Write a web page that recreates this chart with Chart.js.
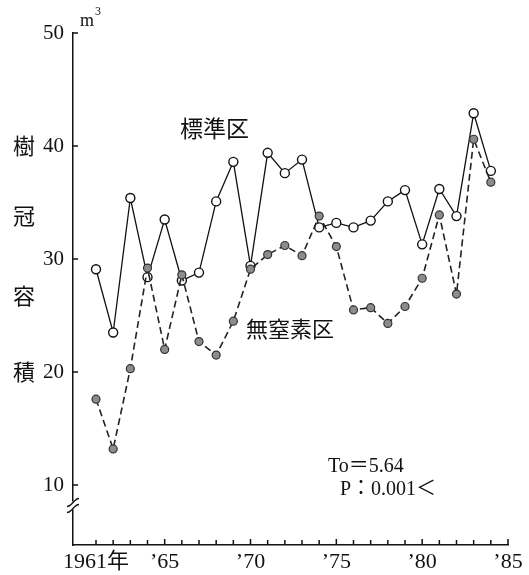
<!DOCTYPE html>
<html lang="ja">
<head>
<meta charset="utf-8">
<title>樹冠容積</title>
<script src="https://cdn.jsdelivr.net/npm/chart.js@4.4.1/dist/chart.umd.min.js"></script>
<style>
  html, body { margin: 0; padding: 0; background: #fff; }
  canvas { display: block; }
</style>
</head>
<body>
<canvas id="crown" width="529" height="575"></canvas>
<script>
// crown volume per year, m3
const years = [1961, 1962, 1963, 1964, 1965, 1966, 1967, 1968, 1969, 1970, 1971, 1972,
               1973, 1974, 1975, 1976, 1977, 1978, 1979, 1980, 1981, 1982, 1983, 1984];
const standardPlot = [29.1, 23.5, 35.4, 28.4, 33.5, 28.1, 28.8, 35.1, 38.6, 29.4, 39.4, 37.6,
                      38.8, 32.8, 33.2, 32.8, 33.4, 35.1, 36.1, 31.3, 36.2, 33.8, 42.9, 37.8];
const noNitrogenPlot = [17.6, 13.2, 20.3, 29.2, 22.0, 28.6, 22.7, 21.5, 24.5, 29.1, 30.4, 31.2,
                        30.3, 33.8, 31.1, 25.5, 25.7, 24.3, 25.8, 28.3, 33.9, 26.9, 40.6, 36.8];

const yearTicks = [1961, 1962, 1963, 1964, 1965, 1966, 1967, 1968, 1969, 1970, 1971, 1972, 1973,
                   1974, 1975, 1976, 1977, 1978, 1979, 1980, 1981, 1982, 1983, 1984, 1985];
const yearLabels = { 1961: '1961年', 1965: '’65', 1970: '’70', 1975: '’75', 1980: '’80', 1985: '’85' };
const volumeTicks = [10, 20, 30, 40, 50];

const SERIF = "'Liberation Serif', 'DejaVu Serif', 'Noto Sans CJK JP', serif";
const JP = "'Noto Sans CJK JP', sans-serif";

const toPoints = vals => years.map((yr, i) => ({ x: yr, y: vals[i] }));

// inward ticks, axis break, titles and notes
const decorations = {
  id: 'decorations',
  afterDraw(chart) {
    const { ctx, chartArea, scales: { x, y } } = chart;
    const left = chartArea.left, bottom = chartArea.bottom;
    ctx.save();
    ctx.strokeStyle = '#111';
    ctx.lineWidth = 1.5;

    ctx.beginPath();
    yearTicks.forEach(v => {
      const px = x.getPixelForValue(v);
      ctx.moveTo(px, bottom);
      ctx.lineTo(px, bottom - (v % 5 === 0 ? 6 : 5));
    });
    volumeTicks.forEach(v => {
      const py = y.getPixelForValue(v);
      ctx.moveTo(left, py);
      ctx.lineTo(left + 5, py);
    });
    ctx.stroke();

    // break mark on the value axis
    const yb = y.getPixelForValue(8.2);
    ctx.fillStyle = '#fff';
    ctx.fillRect(left - 2, yb - 4, 4, 8);
    ctx.lineWidth = 1.4;
    [-3, 3].forEach(off => {
      ctx.beginPath();
      ctx.moveTo(left - 6, yb + off + 4);
      ctx.bezierCurveTo(left - 1, yb + off + 4, left + 1, yb + off - 4, left + 6, yb + off - 4);
      ctx.stroke();
    });

    ctx.fillStyle = '#111';
    ctx.textBaseline = 'middle';

    ctx.font = '18px ' + SERIF;
    ctx.textAlign = 'left';
    ctx.fillText('m', left + 7, 21);
    ctx.font = '12px ' + SERIF;
    ctx.fillText('3', left + 22, 12);

    ctx.font = '22px ' + JP;
    ctx.textAlign = 'center';
    [['樹', 40], ['冠', 33.8], ['容', 26.8], ['積', 20]].forEach(([ch, v]) => {
      ctx.fillText(ch, 24, y.getPixelForValue(v));
    });

    ctx.textAlign = 'left';
    ctx.font = '23px ' + JP;
    ctx.fillText('標準区', 180, 128);
    ctx.font = '22px ' + JP;
    ctx.fillText('無窒素区', 246, 329);

    ctx.font = '20px ' + SERIF;
    ctx.fillText('To＝5.64', 328, 467);
    ctx.fillText('P：0.001＜', 340, 490);
    ctx.restore();
  }
};

new Chart(document.getElementById('crown').getContext('2d'), {
  type: 'line',
  data: {
    datasets: [
      {
        label: '無窒素区',
        data: toPoints(noNitrogenPlot),
        order: 0,
        borderColor: '#222',
        borderWidth: 1.6,
        borderDash: [7, 4],
        pointRadius: 4,
        pointBorderWidth: 1.2,
        pointBackgroundColor: '#8c8c8c',
        pointBorderColor: '#333',
        tension: 0
      },
      {
        label: '標準区',
        data: toPoints(standardPlot),
        order: 1,
        borderColor: '#111',
        borderWidth: 1.3,
        pointRadius: 4.5,
        pointBorderWidth: 1.4,
        pointBackgroundColor: '#fff',
        pointBorderColor: '#111',
        tension: 0
      }
    ]
  },
  options: {
    responsive: false,
    animation: false,
    devicePixelRatio: 1,
    layout: { padding: { top: 33, right: 21, left: 0, bottom: 0 } },
    plugins: { legend: { display: false }, tooltip: { enabled: false } },
    scales: {
      x: {
        type: 'linear',
        min: 1959.66,
        max: 1985,
        afterBuildTicks: s => { s.ticks = yearTicks.map(v => ({ value: v })); },
        afterFit: s => { s.height = 30; },
        grid: { display: false, drawTicks: false, tickLength: 0 },
        border: { display: true, color: '#111', width: 1.5 },
        ticks: {
          autoSkip: false,
          maxRotation: 0,
          padding: 4,
          color: '#111',
          font: { family: SERIF, size: 22 },
          callback: v => yearLabels[v] || ''
        }
      },
      y: {
        type: 'linear',
        min: 4.7,
        max: 50,
        afterBuildTicks: s => { s.ticks = volumeTicks.map(v => ({ value: v })); },
        afterFit: s => { s.width = 73; },
        grid: { display: false, drawTicks: false, tickLength: 0 },
        border: { display: true, color: '#111', width: 1.5 },
        ticks: {
          padding: 9,
          color: '#111',
          font: { family: SERIF, size: 21 }
        }
      }
    }
  },
  plugins: [decorations]
});
</script>
</body>
</html>
